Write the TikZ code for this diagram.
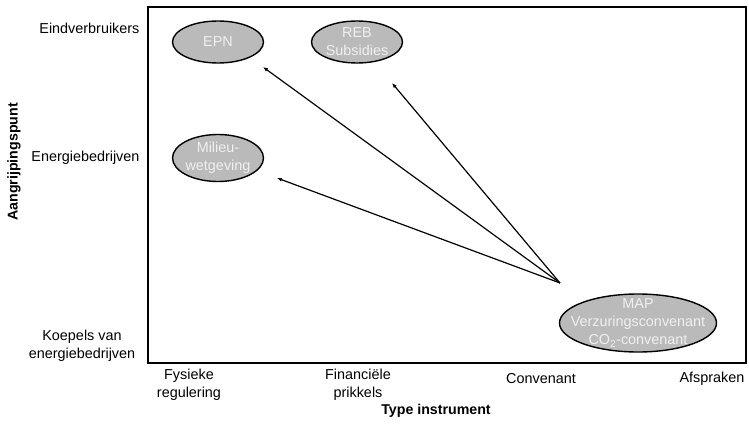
\documentclass[tikz,border=0pt]{standalone}
\usepackage{fontspec}
\setmainfont{Liberation Sans}
\usetikzlibrary{shapes.geometric, arrows.meta}
\tikzset{
	measure/.style = {ellipse, draw=black, line width=1.4pt, fill=black!27,
		inner sep=0pt},
	measuretext/.style = {text=black!6, align=center, inner sep=0pt},
	axislabel/.style = {align=center},
	pointer/.style = {-{Latex[length=5pt, width=4pt]}, line width=1.2pt}
}

\begin{document}
\begin{tikzpicture}[x=1pt, y=-1pt, font=\fontsize{14.4}{18}\selectfont]
	\useasboundingbox (0,0) rectangle (749,423);
	% ====== Frame ========
	\draw[line width=1.5pt] (148,7) rectangle (746,363);
	% ====== Axis labels ========
	\node[axislabel, anchor=east] (eind) at (143,28) {Eindverbruikers};
	\node[axislabel, anchor=east] (energie) at (143,158) {Energiebedrijven};
	\node[axislabel] (koepels) at (82,346) {Koepels van\\energiebedrijven};
	\node[axislabel, font=\fontsize{14.2}{18}\selectfont\bfseries, rotate=90] (punt) at (14,162) {Aangrijpingspunt};
	\node[axislabel] (fysiek) at (189,385) {Fysieke\\regulering};
	\node[axislabel] (financ) at (358,385) {Financiële\\prikkels};
	\node[axislabel] (conv) at (541,379) {Convenant};
	\node[axislabel] (afspr) at (712,379) {Afspraken};
	\node[axislabel, font=\fontsize{14.2}{18}\selectfont\bfseries] (type) at (436,411) {Type instrument};
	% ====== Instruments ========
	\node[measure, minimum width=91, minimum height=42] (epn) at (218,42) {};
	\node[measuretext] (epnText) at (epn) {EPN};
	\node[measure, minimum width=91, minimum height=42] (reb) at (357,42) {};
	\node[measuretext] (rebText) at (reb) {REB\\Subsidies};
	\node[measure, minimum width=91, minimum height=47] (milieu) at (218,158) {};
	\node[measuretext] (milieuText) at (milieu) {Milieu-\\wetgeving};
	\node[measure, minimum width=157, minimum height=58] (map) at (638,323) {};
	\node[measuretext] (mapText) at (map) {MAP\\Verzuringsconvenant\\CO\textsubscript{2}-convenant};
	% ====== Pointers ========
	\coordinate (src) at (560,283);
	\coordinate (epnTip) at (263,67);
	\coordinate (rebTip) at (392,83);
	\coordinate (milieuTip) at (277,178);
	\draw[pointer] (src) -- (epnTip);
	\draw[pointer] (src) -- (rebTip);
	\draw[pointer] (src) -- (milieuTip);
\end{tikzpicture}
\end{document}
